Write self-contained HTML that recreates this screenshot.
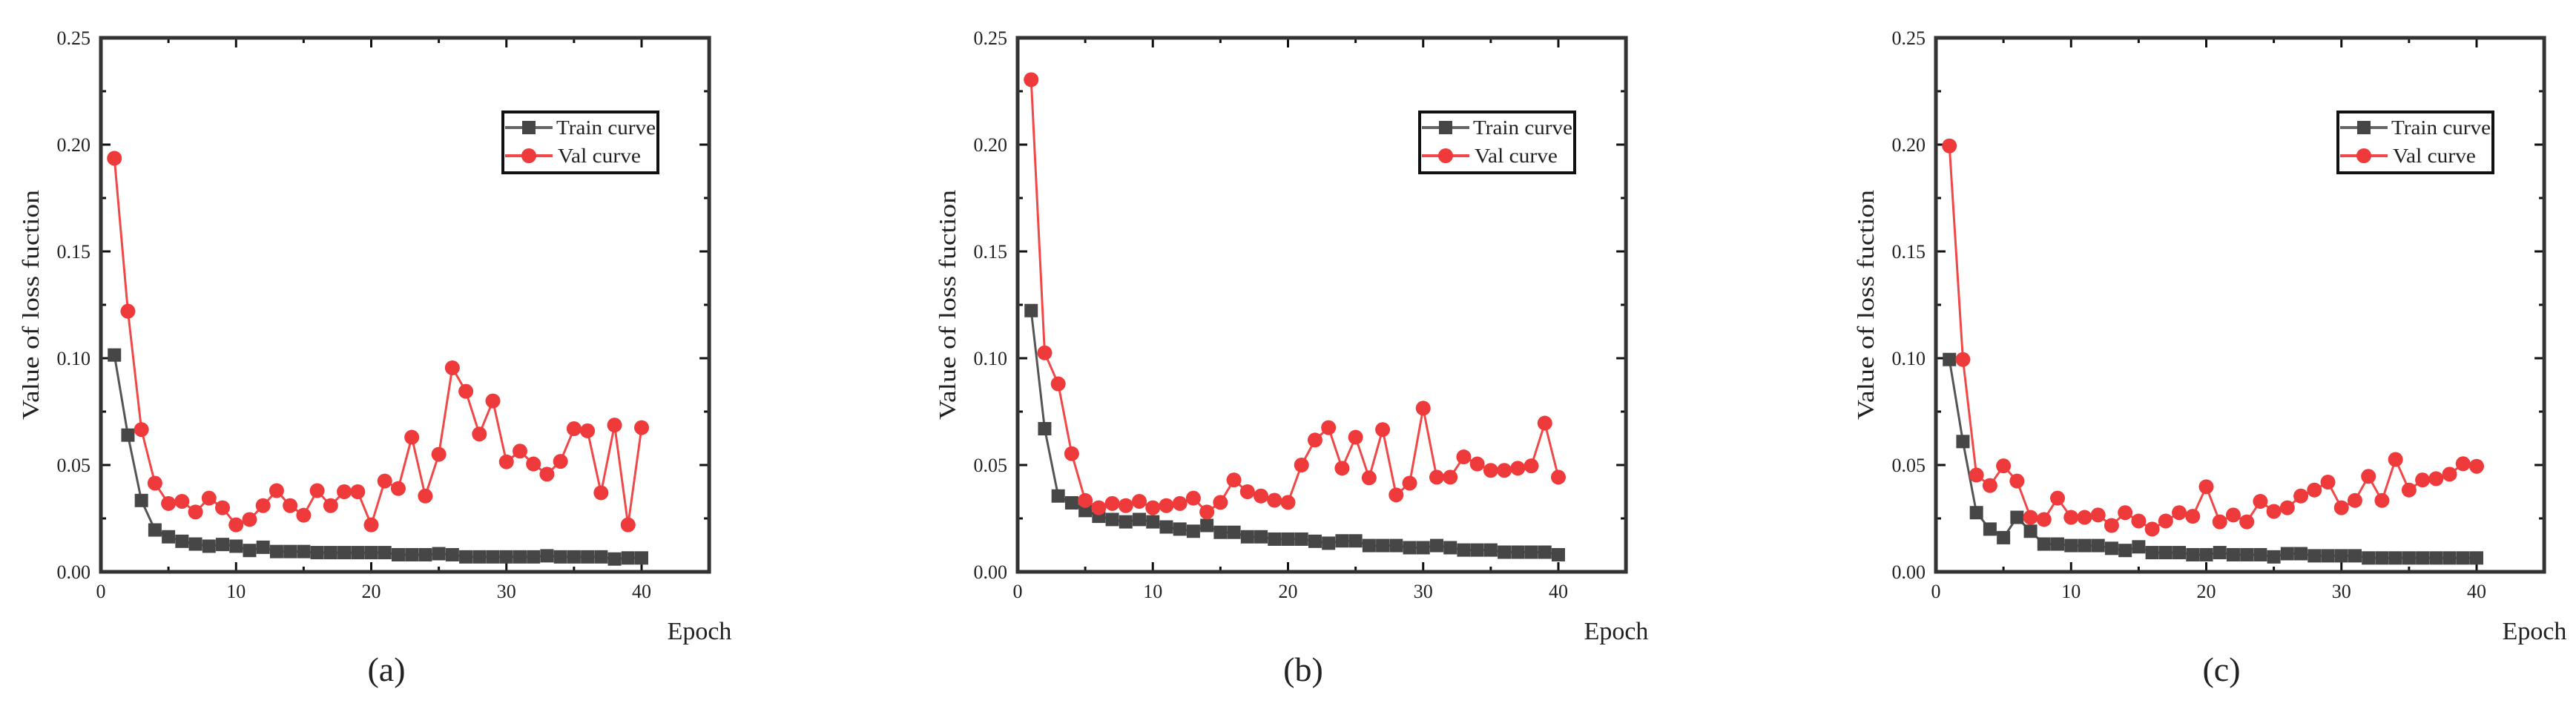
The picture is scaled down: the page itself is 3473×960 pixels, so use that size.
<!DOCTYPE html>
<html><head><meta charset="utf-8"><style>
html,body{margin:0;padding:0;background:#fff;}
svg{display:block;}
text{font-family:"Liberation Serif",serif;fill:#222;}
</style></head><body>
<svg id="fig" width="3473" height="960" viewBox="0 0 3473 960" xmlns="http://www.w3.org/2000/svg"></svg>
<script>
const epochs = Array.from({length:40},(_,i)=>i+1);
const xTicks = [0,10,20,30,40];
const yTicks = [0,0.05,0.10,0.15,0.20,0.25];
const yTickLabels = ["0.00","0.05","0.10","0.15","0.20","0.25"];
const panelLabels = ["(a)","(b)","(c)"];
const trainA = [0.1015,0.064,0.0334,0.0196,0.0164,0.0143,0.013,0.012,0.0128,0.012,0.010,0.0115,0.0095,0.0095,0.0095,0.009,0.009,0.009,0.009,0.009,0.009,0.008,0.008,0.008,0.0085,0.008,0.007,0.007,0.007,0.007,0.007,0.007,0.0075,0.007,0.007,0.007,0.007,0.006,0.0065,0.0065];
const valA = [0.1936,0.122,0.0666,0.0415,0.032,0.033,0.028,0.0345,0.030,0.022,0.0245,0.031,0.038,0.031,0.0265,0.038,0.031,0.0375,0.0375,0.022,0.0425,0.039,0.063,0.0355,0.055,0.0955,0.0845,0.0645,0.080,0.0515,0.0565,0.0505,0.0457,0.0517,0.067,0.066,0.037,0.0687,0.022,0.0675];
const trainB = [0.1223,0.067,0.0355,0.0323,0.0287,0.026,0.0245,0.0234,0.0245,0.0234,0.021,0.020,0.019,0.0217,0.0185,0.0185,0.0164,0.0164,0.0153,0.0153,0.0153,0.0143,0.0134,0.0145,0.0145,0.0123,0.0123,0.0123,0.0113,0.0113,0.0123,0.0113,0.0102,0.0102,0.0102,0.0092,0.0092,0.0092,0.0092,0.008];
const valB = [0.2304,0.1025,0.088,0.0553,0.0334,0.030,0.032,0.031,0.033,0.030,0.031,0.032,0.0345,0.028,0.0325,0.043,0.0375,0.0355,0.0335,0.0325,0.050,0.0617,0.0675,0.0485,0.063,0.044,0.0666,0.036,0.0415,0.0766,0.0443,0.0443,0.0538,0.0505,0.0475,0.0475,0.0485,0.0496,0.0696,0.0443];
const trainC = [0.0994,0.061,0.0277,0.020,0.016,0.0255,0.019,0.013,0.013,0.0123,0.0123,0.0123,0.011,0.010,0.0117,0.009,0.009,0.009,0.008,0.008,0.009,0.008,0.008,0.008,0.007,0.0085,0.0085,0.0075,0.0075,0.0075,0.0075,0.0065,0.0065,0.0065,0.0065,0.0065,0.0065,0.0065,0.0065,0.0065];
const valC = [0.1994,0.0994,0.0453,0.0404,0.0496,0.0425,0.0255,0.0245,0.0345,0.0255,0.0255,0.0266,0.0217,0.0277,0.0238,0.020,0.0238,0.0277,0.026,0.0398,0.0234,0.0266,0.0234,0.033,0.0283,0.030,0.0355,0.0383,0.042,0.030,0.0334,0.0447,0.0334,0.0526,0.0383,0.043,0.0436,0.0457,0.0506,0.0494];

const NS = "http://www.w3.org/2000/svg";
const svg = document.getElementById('fig');
function mk(tag, attrs, parent){
  const e = document.createElementNS(NS, tag);
  for (const k in attrs) e.setAttribute(k, attrs[k]);
  (parent||svg).appendChild(e);
  return e;
}
const panels = [[trainA,valA],[trainB,valB],[trainC,valC]];
const offsets = [0,1236,2474];
const X0=136, XPU=18.225, YB=771, YPU=2880, RIGHT=136+45*18.225, TOP=771-0.25*2880;

panels.forEach((p,pi)=>{
  const off = offsets[pi];
  const sx = v => off + X0 + v*XPU;
  const sy = v => YB - v*YPU;
  const g = mk('g',{});
  
  
  // ticks
  for (let v=0; v<=45; v+=5){
    const major = v%10===0;
    const L = major?13:7;
    mk('line',{x1:sx(v),x2:sx(v),y1:YB,y2:YB-L,stroke:'#111','stroke-width':3},g);
    mk('line',{x1:sx(v),x2:sx(v),y1:TOP,y2:TOP+L,stroke:'#111','stroke-width':3},g);
  }
  for (let i=0;i<=10;i++){
    const v=i*0.025; const major=i%2===0; const L=major?13:7;
    mk('line',{x1:sx(0),x2:sx(0)+L,y1:sy(v),y2:sy(v),stroke:'#111','stroke-width':3},g);
    mk('line',{x1:sx(45),x2:sx(45)-L,y1:sy(v),y2:sy(v),stroke:'#111','stroke-width':3},g);
  }
  const frame = mk('rect',{x:sx(0),y:TOP,width:45*XPU,height:0.25*YPU,fill:'none',stroke:'#333','stroke-width':5},g);
  
  
  xTicks.forEach(v=>{
    const t = mk('text',{x:sx(v),y:806,'font-size':26,'text-anchor':'middle'},g);
    
    
    t.textContent = v;
  });
  yTicks.forEach((v,i)=>{
    const t = mk('text',{x:off+122,y:sy(v)+9,'font-size':26,'text-anchor':'end'},g);
    
    
    t.textContent = yTickLabels[i];
  });
  const yt = mk('text',{x:0,y:0,'font-size':32,'text-anchor':'middle',transform:`translate(${off+52},411) rotate(-90)`,textLength:310,lengthAdjust:'spacingAndGlyphs'},g);
  
  
  yt.textContent = 'Value of loss fuction';
  const xt = mk('text',{x:off+943,y:862,'font-size':34,'text-anchor':'middle'},g);
  
  
  xt.textContent = 'Epoch';
  const pl = mk('text',{x:off+521,y:918,'font-size':46,'text-anchor':'middle'},g);
  
  
  pl.textContent = panelLabels[pi];
  // series
  const [tr,va] = p;
  const trLine = mk('polyline',{points:epochs.map((e,i)=>sx(e)+','+sy(tr[i])).join(' '),fill:'none',stroke:'#555','stroke-width':3},g);
  
  
  epochs.forEach((e,i)=>{
    const r = mk('rect',{x:sx(e)-9,y:sy(tr[i])-9,width:18,height:18,fill:'#464646'},g);
    
    
  });
  const vaLine = mk('polyline',{points:epochs.map((e,i)=>sx(e)+','+sy(va[i])).join(' '),fill:'none',stroke:'#f04848','stroke-width':3},g);
  
  
  epochs.forEach((e,i)=>{
    const c = mk('circle',{cx:sx(e),cy:sy(va[i]),r:10,fill:'#ee3a3a'},g);
    
    
  });
  // legend
  const lg = mk('g',{},g);
  
  
  mk('rect',{x:off+678,y:151,width:209,height:82,fill:'#fff',stroke:'#111','stroke-width':4},lg);
  mk('line',{x1:off+681,x2:off+745,y1:172,y2:172,stroke:'#666','stroke-width':4},lg);
  mk('rect',{x:off+704,y:163,width:18,height:18,fill:'#464646'},lg);
  const l1 = mk('text',{x:off+750,y:181,'font-size':27,textLength:134,lengthAdjust:'spacingAndGlyphs'},lg);
  
  
  l1.textContent='Train curve';
  mk('line',{x1:off+681,x2:off+745,y1:210,y2:210,stroke:'#f04848','stroke-width':4},lg);
  mk('circle',{cx:off+713,cy:210,r:10,fill:'#ee3a3a'},lg);
  const l2 = mk('text',{x:off+752,y:219,'font-size':27,textLength:112,lengthAdjust:'spacingAndGlyphs'},lg);
  
  
  l2.textContent='Val curve';
});
</script>
</body></html>
